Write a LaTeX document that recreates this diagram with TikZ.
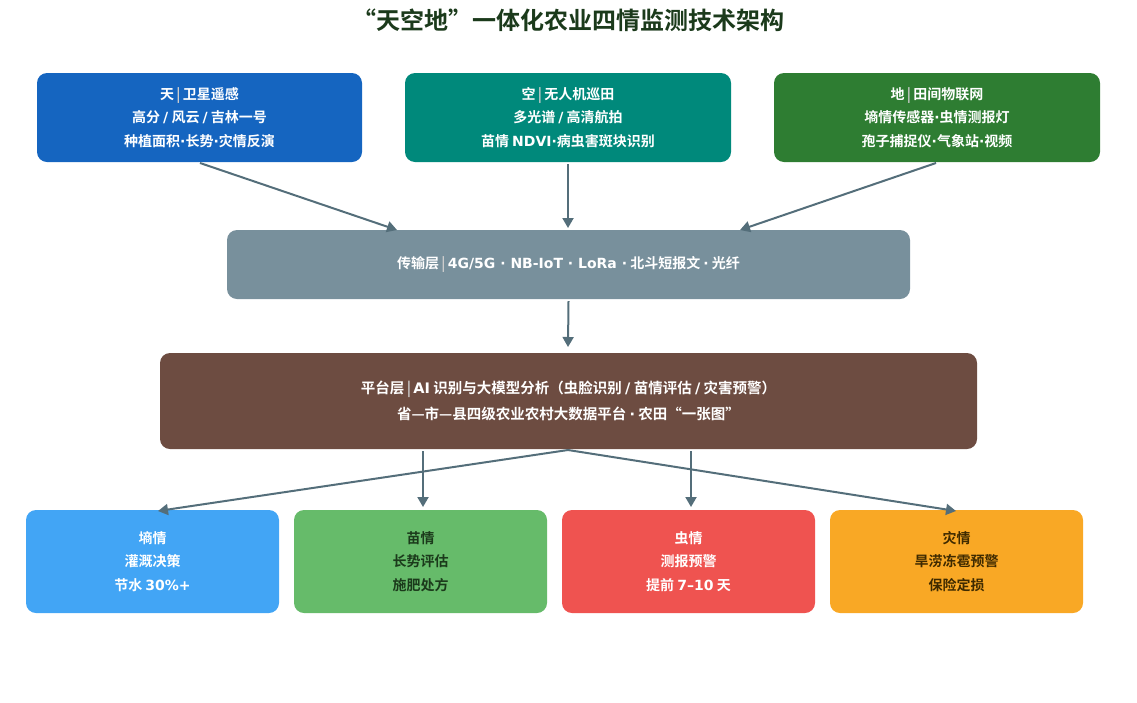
\documentclass[tikz,border=0pt]{standalone}
\usepackage{fontspec}
\setmainfont{Noto Sans CJK SC}[BoldFont={Noto Sans CJK SC Bold}]
\newfontfamily\dv{DejaVu Sans}
\usetikzlibrary{arrows.meta}
\definecolor{cT}{HTML}{1565C0}\definecolor{cK}{HTML}{00897B}\definecolor{cD}{HTML}{2E7D32}
\definecolor{cTr}{HTML}{78909C}\definecolor{cP}{HTML}{6D4C41}
\definecolor{b1}{HTML}{42A5F5}\definecolor{b2}{HTML}{66BB6A}\definecolor{b3}{HTML}{EF5350}\definecolor{b4}{HTML}{F9A825}
\definecolor{arr}{HTML}{546E7A}\definecolor{ttl}{HTML}{1B3A1B}
\definecolor{dg}{HTML}{1B3A1B}\definecolor{db}{HTML}{3E2A00}
\newcommand{\sepbar}{\textcolor{white!60!gray}{\,|\,}}
\newcommand{\md}{{\dv\bfseries ·}}
\newcommand{\la}[1]{{\dv\bfseries #1}}
\begin{document}
\begin{tikzpicture}[x=1pt,y=-1pt,
 box/.style={rounded corners=10pt,draw=none,align=center,font=\bfseries\fontsize{14}{23.5}\selectfont,text=white,inner sep=0pt},
 ar/.style={draw=arr,line width=2pt,-{Triangle[length=10pt,width=11pt]}}]
\useasboundingbox (0,0) rectangle (1137,702);
\node[text=ttl,font=\bfseries\fontsize{24}{26}\selectfont] (title) at (568,20) {“天空地”一体化农业四情监测技术架构};
\node[box,fill=cT,minimum width=325pt,minimum height=89pt] (t1) at (199.5,117.5) {天\sepbar 卫星遥感\\高分 \la{/} 风云 \la{/} 吉林一号\\种植面积\md 长势\md 灾情反演};
\node[box,fill=cK,minimum width=326pt,minimum height=89pt] (t2) at (568,117.5) {空\sepbar 无人机巡田\\多光谱 \la{/} 高清航拍\\苗情 \la{NDVI}\md 病虫害斑块识别};
\node[box,fill=cD,minimum width=326pt,minimum height=89pt] (t3) at (937,117.5) {地\sepbar 田间物联网\\墒情传感器\md 虫情测报灯\\孢子捕捉仪\md 气象站\md 视频};
\node[box,fill=cTr,minimum width=683pt,minimum height=69pt] (tr) at (568.5,264.5) {传输层\sepbar \la{4G/5G · NB-IoT · LoRa ·} 北斗短报文 \la{·} 光纤};
\node[box,fill=cP,minimum width=817pt,minimum height=96pt,font=\bfseries\fontsize{14.5}{26}\selectfont] (pl) at (568.5,401) {平台层\sepbar \la{AI} 识别与大模型分析（虫脸识别 \la{/} 苗情评估 \la{/} 灾害预警）\\省—市—县四级农业农村大数据平台 \la{·} 农田“一张图”};
\node[box,fill=b1,minimum width=253pt,minimum height=103pt] (d1) at (152.5,561.5) {墒情\\灌溉决策\\节水 \la{30\%+}};
\node[box,fill=b2,minimum width=253pt,minimum height=103pt,text=dg] (d2) at (420.5,561.5) {苗情\\长势评估\\施肥处方};
\node[box,fill=b3,minimum width=253pt,minimum height=103pt] (d3) at (688.5,561.5) {虫情\\测报预警\\提前 \la{7–10} 天};
\node[box,fill=b4,minimum width=253pt,minimum height=103pt,text=db] (d4) at (956.5,561.5) {灾情\\旱涝冻雹预警\\保险定损};
\coordinate (a1) at (200,163);\coordinate (e1) at (397,230);
\coordinate (a3) at (936,163);\coordinate (e3) at (740,230);
\draw[ar] (a1) -- (e1);
\draw[ar] (t2.south) ++(0,2) -- (568,228);
\draw[ar] (a3) -- (e3);
\draw[ar] (tr.south) ++(0,2) -- (568,347);
\coordinate (pc) at (568,450);
\coordinate (pa) at (423,451);\coordinate (pb) at (691,451);
\draw[ar] (pc) -- (158,511);
\draw[ar] (pc) -- (956,511);
\draw[ar] (pa) -- (423,507);
\draw[ar] (pb) -- (691,507);
\end{tikzpicture}
\end{document}
